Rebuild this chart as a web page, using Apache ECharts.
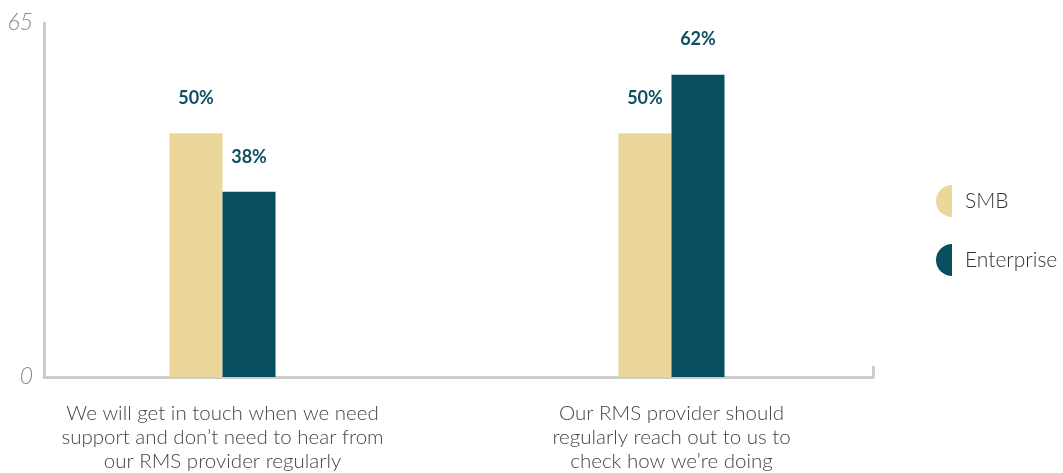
<!DOCTYPE html>
<html><head><meta charset="utf-8">
<script src="https://cdn.jsdelivr.net/npm/echarts@6/dist/echarts.min.js"></script>
<style>html,body{margin:0;padding:0;background:#fff}#c{width:1063px;height:473px}</style>
</head><body><div id="c"></div>
<script>
const categories = ['We will get in touch when we need\nsupport and don\u2019t need to hear from\nour RMS provider regularly',
                    'Our RMS provider should\nregularly reach out to us to\ncheck how we\u2019re doing'];
const smbValues = [50, 50];
const enterpriseValues = [38, 62];
const seriesNames = ['SMB', 'Enterprise'];
const yTickLabels = ['0', '65'];
const yMax = 72.6;
const xMin = -0.3976, xMax = 1.4488;

const chart = echarts.init(document.getElementById('c'));
const font = 'Lato, "Open Sans", sans-serif';
const halfCircle = 'path://M10,0 A10,10 0 0 0 10,20 Z';
const labelStyle = {show: true, position: 'top', distance: 26, formatter: p => p.value[1] + '%',
  color: '#0e4f62', fontWeight: 'bold', fontSize: 18, fontFamily: font};
chart.setOption({
  animation: false,
  grid: {left: 44, right: 190, top: 23, bottom: 95, containLabel: false},
  legend: {orient: 'vertical', left: 931, top: 180, itemWidth: 16, itemHeight: 33, itemGap: 27,
    data: seriesNames.map(n => ({name: n, icon: halfCircle})),
    textStyle: {fontSize: 21, color: '#333', fontFamily: font, fontWeight: 300, padding: [0, 0, 0, 8]}},
  xAxis: {type: 'value', min: xMin, max: xMax,
    splitLine: {show: false},
    axisLine: {show: true, onZero: false, lineStyle: {color: '#cccccc', width: 3}},
    axisTick: {show: true, customValues: [xMax], inside: true, length: 11, lineStyle: {color: '#cccccc', width: 3}},
    axisLabel: {customValues: [0, 1], formatter: v => categories[Math.round(v)], margin: 24,
      fontSize: 20.5, lineHeight: 24, color: '#444', fontFamily: font, fontWeight: 300, align: 'center'}},
  yAxis: {type: 'value', min: 0, max: yMax,
    splitLine: {show: false},
    axisLine: {show: true, onZero: false, lineStyle: {color: '#cccccc', width: 3}},
    axisTick: {show: false},
    axisLabel: {customValues: [0, yMax], formatter: v => v === 0 ? yTickLabels[0] : yTickLabels[1], margin: 11,
      fontSize: 23, fontStyle: 'italic', color: '#8a8a8a', fontFamily: font, fontWeight: 300}},
  series: [
    {name: seriesNames[0], type: 'bar', barWidth: 53, barGap: '0%', itemStyle: {color: '#ead799'},
     data: smbValues.map((v, i) => [i, v]), label: labelStyle},
    {name: seriesNames[1], type: 'bar', barWidth: 53, barGap: '0%', itemStyle: {color: '#074e5f'},
     data: enterpriseValues.map((v, i) => [i, v]), label: labelStyle}
  ]
});
</script></body></html>
